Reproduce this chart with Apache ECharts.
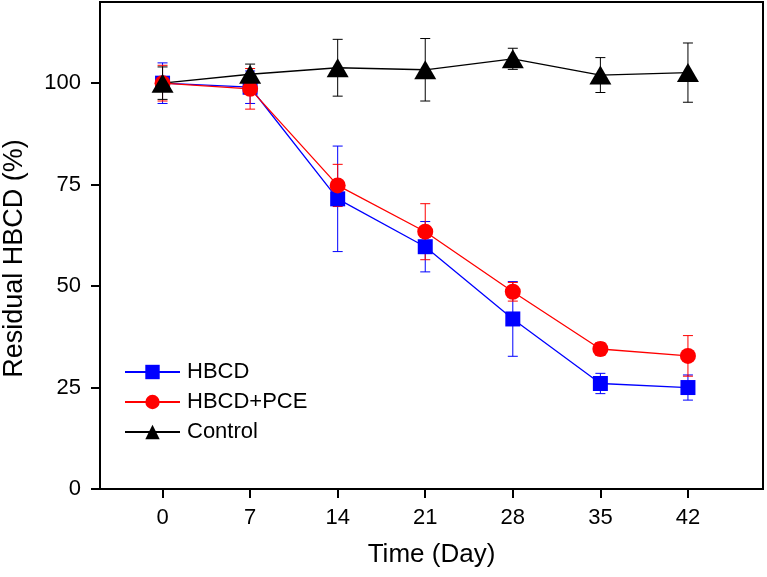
<!DOCTYPE html>
<html>
<head>
<meta charset="utf-8">
<script src="https://cdn.jsdelivr.net/npm/echarts@6/dist/echarts.min.js"></script>
<style>html,body{margin:0;padding:0;background:#fff}#c{width:767px;height:577px}</style>
</head>
<body>
<div id="c"></div>
<script>
const days = [0, 7, 14, 21, 28, 35, 42];
const hbcd = [100, 99, 71.5, 59.7, 41.9, 26, 25];
const hbcdErr = [5, 4, 13, 6.2, 9.2, 2.5, 3.1];
const pce = [100, 98.6, 74.8, 63.4, 48.6, 34.5, 32.8];
const pceErr = [4.4, 5, 5.2, 6.9, 2.3, 1.6, 5];
const control = [100, 102.2, 103.8, 103.3, 106, 102, 102.6];
const controlErr = [4, 2.5, 7, 7.7, 2.6, 4.3, 7.3];
const yTicks = [0, 25, 50, 75, 100];

const FONT = 'Liberation Sans, Arial, sans-serif';

function pairs(vals) { return days.map((d, i) => [d, vals[i]]); }
function errData(vals, errs) { return days.map((d, i) => [d, vals[i] - errs[i], vals[i] + errs[i]]); }

function errSeries(name, vals, errs, color) {
  return {
    type: 'custom',
    name: name + ' err',
    data: errData(vals, errs),
    encode: { x: 0, y: [1, 2] },
    renderItem: function (params, api) {
      const x = api.value(0);
      const lo = api.coord([x, api.value(1)]);
      const hi = api.coord([x, api.value(2)]);
      const hw = 5;
      const style = { stroke: color, lineWidth: 1 };
      return {
        type: 'group',
        children: [
          { type: 'line', shape: { x1: lo[0], y1: lo[1], x2: hi[0], y2: hi[1] }, style: style },
          { type: 'line', shape: { x1: lo[0] - hw, y1: lo[1], x2: lo[0] + hw, y2: lo[1] }, style: style },
          { type: 'line', shape: { x1: hi[0] - hw, y1: hi[1], x2: hi[0] + hw, y2: hi[1] }, style: style }
        ]
      };
    },
    silent: true
  };
}

function lineSeries(name, vals, color, symbol, size) {
  return {
    type: 'line',
    name: name,
    data: pairs(vals),
    symbol: symbol,
    symbolSize: size,
    showAllSymbol: true,
    lineStyle: { color: color, width: 1.3 },
    itemStyle: { color: color, borderWidth: 0 },
    emphasis: { disabled: true },
    animation: false
  };
}

const chart = echarts.init(document.getElementById('c'), null, { renderer: 'canvas' });
chart.setOption({
  animation: false,
  backgroundColor: '#fff',
  textStyle: { fontFamily: FONT },
  grid: { left: 100, right: 4, top: 2, bottom: 88, containLabel: false, outerBoundsMode: 'none', show: true, borderColor: '#000', borderWidth: 2, backgroundColor: 'transparent' },
  legend: {
    data: ['HBCD', 'HBCD+PCE', 'Control'],
    orient: 'vertical',
    left: 124,
    top: 361,
    padding: 0,
    itemWidth: 55,
    itemHeight: 18,
    itemGap: 8,
    textStyle: { fontFamily: FONT, fontSize: 22, color: '#000', padding: [0, 0, 0, 2] },
    selectedMode: false
  },
  xAxis: {
    type: 'value',
    min: -5,
    max: 48,
    name: 'Time (Day)',
    nameLocation: 'middle',
    nameGap: 53,
    nameTextStyle: { fontFamily: FONT, fontSize: 26, color: '#000' },
    axisLine: { show: true, onZero: false, lineStyle: { color: '#000', width: 2 } },
    axisTick: { show: true, inside: false, length: 9, lineStyle: { color: '#000', width: 2 }, customValues: days },
    axisLabel: { fontFamily: FONT, fontSize: 22, color: '#000', margin: 18, customValues: days },
    splitLine: { show: false }
  },
  yAxis: {
    type: 'value',
    min: 0,
    max: 120,
    name: 'Residual HBCD (%)',
    nameLocation: 'middle',
    nameGap: 72,
    nameRotate: 90,
    nameTextStyle: { fontFamily: FONT, fontSize: 27, color: '#000', padding: [0, 26, 0, 0] },
    axisLine: { show: true, onZero: false, lineStyle: { color: '#000', width: 2 } },
    axisTick: { show: true, inside: false, length: 9, lineStyle: { color: '#000', width: 2 }, customValues: yTicks },
    axisLabel: { fontFamily: FONT, fontSize: 22, color: '#000', margin: 19, customValues: yTicks },
    splitLine: { show: false }
  },
  series: [
    lineSeries('HBCD', hbcd, '#0000ff', 'rect', 15),
    errSeries('HBCD', hbcd, hbcdErr, '#0000ff'),
    lineSeries('HBCD+PCE', pce, '#ff0000', 'circle', 16),
    errSeries('HBCD+PCE', pce, pceErr, '#ff0000'),
    lineSeries('Control', control, '#000000', 'triangle', [22, 19]),
    errSeries('Control', control, controlErr, '#000000')
  ]
});
</script>
</body>
</html>
